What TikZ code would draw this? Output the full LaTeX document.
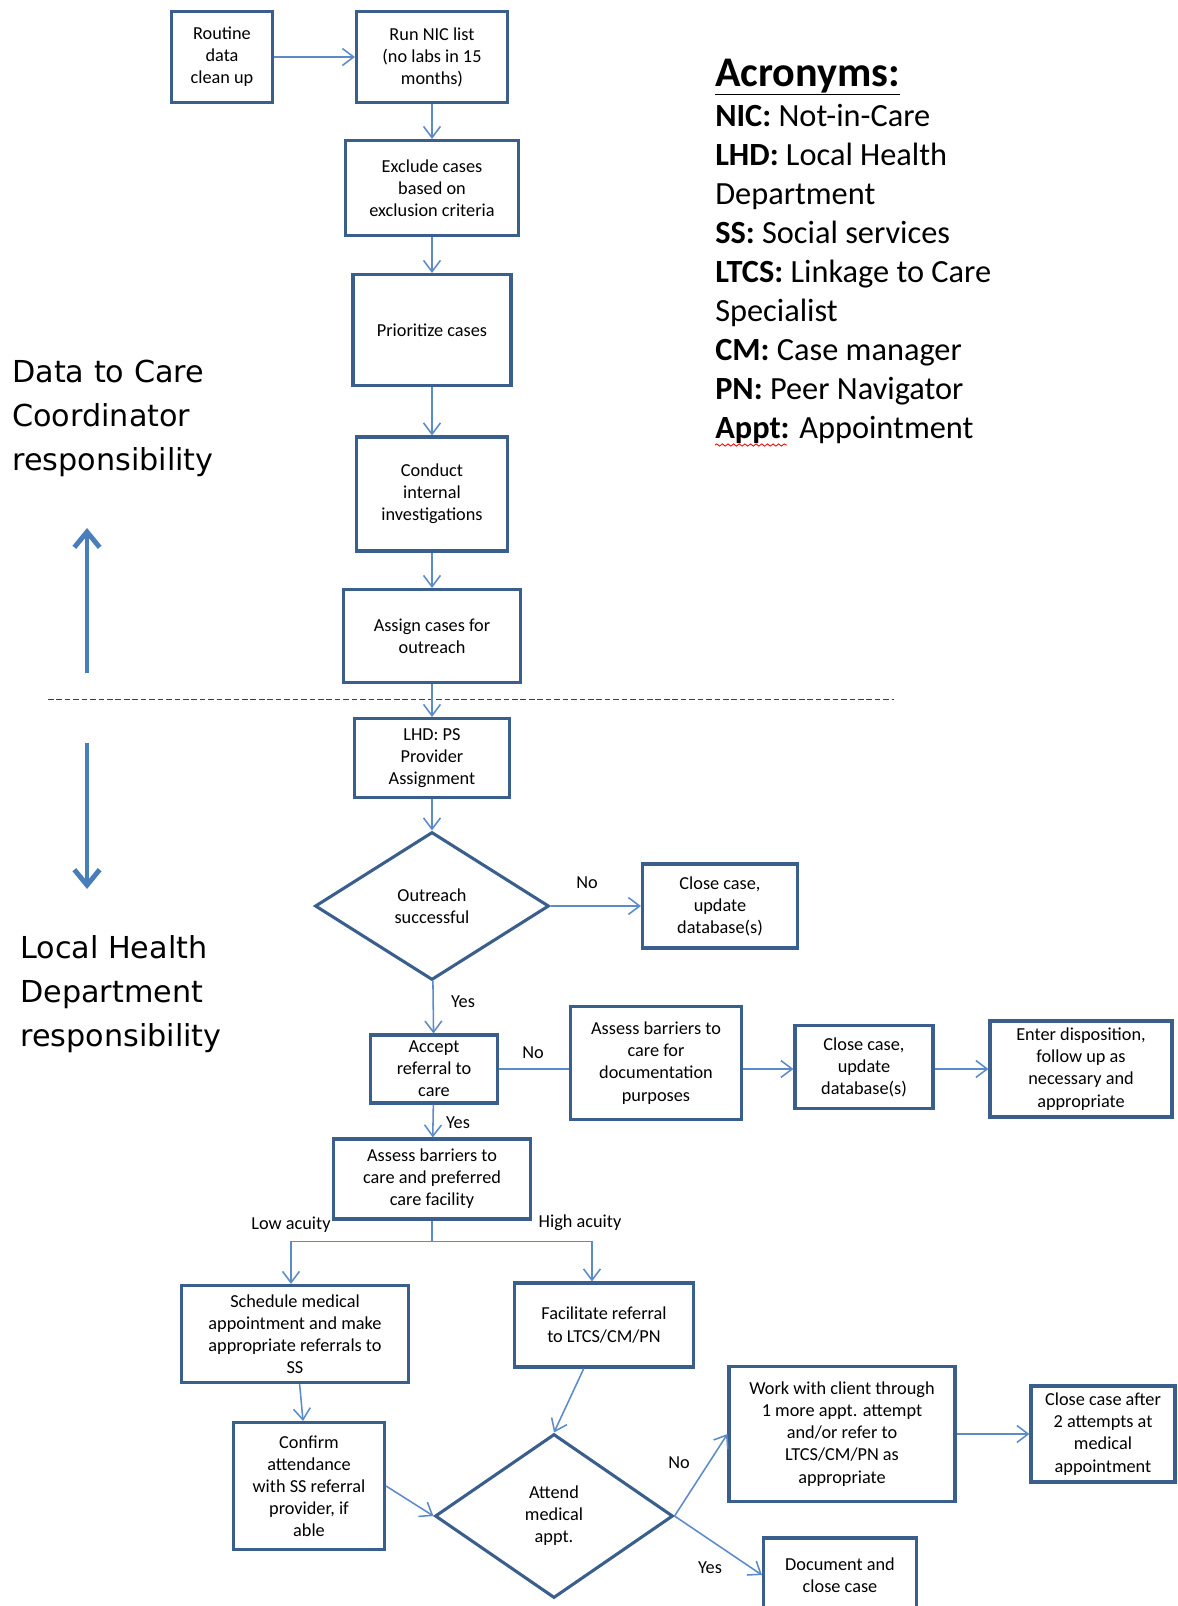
\documentclass[tikz,border=0pt]{standalone}
\usepackage{fontspec}
\setmainfont{Carlito}
\newfontfamily\sidefont{DejaVu Sans}
\usepackage{tikz}
\usetikzlibrary{arrows.meta,positioning,shapes.geometric,decorations.pathmorphing}
\usepackage{xcolor}
\definecolor{boxblue}{HTML}{3B5F8D}
\definecolor{linkblue}{HTML}{5B8BC9}
\definecolor{bigblue}{HTML}{4A7EBB}

\begin{document}
\begin{tikzpicture}[x=0.025cm, y=-0.025cm,
  font=\fontsize{13pt}{15.7pt}\selectfont,
  box/.style={draw=boxblue, line width=2.2pt, fill=white, align=center, inner sep=1pt},
  sz/.style 2 args={minimum width=#1*0.025cm, minimum height=#2*0.025cm},
  choice/.style={diamond, draw=boxblue, line width=2.2pt, fill=white, align=center, inner sep=0pt},
  link/.style={draw=linkblue, line width=1.1pt, -{Straight Barb[length=8pt,width=12pt]}},
  plain/.style={draw=linkblue, line width=1.1pt},
  lbl/.style={inner sep=0pt},
  side/.style={font=\sidefont\fontsize{21.5pt}{31.3pt}\selectfont, align=left, anchor=north west, inner sep=0pt},
  move/.style={draw=bigblue, line width=3.5pt, -{Straight Barb[length=11pt,width=18pt]}}]
\useasboundingbox (0,0) rectangle (1178,1606);
\clip (0,0) rectangle (1178,1606);
% ---- who is responsible ----
\node[side] (dtc) at (12,360) {Data to Care\\Coordinator\\responsibility};
\node[side] (lhdresp) at (20,935) {Local Health\\Department\\responsibility};
\draw[move] (87,673) -- (87,528);
\draw[move] (87,743) -- (87,889);
\draw[black!75, line width=0.7pt, dash pattern=on 4pt off 2pt] (48,699) -- (894,699);
% ---- acronyms ----
\node[anchor=base west, inner sep=0pt, font=\bfseries\fontsize{30pt}{36pt}\selectfont]
   (acrtitle) at (715,86) {\underline{Acronyms:}};
\node[anchor=north west, align=left, inner sep=0pt, font=\fontsize{23pt}{27.7pt}\selectfont]
   (acrlist) at (715,104)
   {\textbf{NIC:} Not-in-Care\\\textbf{LHD:} Local Health\\Department\\\textbf{SS:} Social services\\
    \textbf{LTCS:} Linkage to Care\\Specialist\\\textbf{CM:} Case manager\\
    \textbf{PN:} Peer Navigator\\\textbf{Appt:} Appointment};
\draw[red, line width=0.6pt, decorate, decoration={snake, amplitude=0.8pt, segment length=4pt}]
   (715,445) -- (787,445);
% ---- coordinator steps ----
\node[box, sz={101}{91}] (routine) at (222,57) {Routine\\data\\clean up};
\node[box, sz={151}{91}] (runnic) at (432,57) {Run NIC list\\(no labs in 15\\months)};
\node[box, sz={173}{95}] (exclude) at (432,188) {Exclude cases\\based on\\exclusion criteria};
\node[box, sz={158}{111}] (prioritize) at (432,330) {Prioritize cases};
\node[box, sz={151}{114}] (conduct) at (432,494) {Conduct\\internal\\investigations};
\node[box, sz={177}{93}] (assign) at (432,636) {Assign cases for\\outreach};
% ---- health department steps ----
\node[box, sz={155}{79}] (lhd) at (432,758) {LHD: PS\\Provider\\Assignment};
\node[choice, sz={234}{148}] (outreach) at (432,906) {Outreach\\successful};
\node[box, sz={155}{84}] (closeA) at (720,906) {Close case,\\update\\database(s)};
\node[box, sz={127}{68}] (accept) at (434,1069) {Accept\\referral to\\care};
\node[box, sz={171}{113}] (assessdoc) at (656,1063) {Assess barriers to\\care for\\documentation\\purposes};
\node[box, sz={138}{83}] (closeB) at (864,1067) {Close case,\\update\\database(s)};
\node[box, sz={182}{96}] (enter) at (1081,1069) {Enter disposition,\\follow up as\\necessary and\\appropriate};
\node[box, sz={197}{80}] (assesspref) at (432,1179) {Assess barriers to\\care and preferred\\care facility};
\node[box, sz={227}{97}] (schedule) at (295,1334) {Schedule medical\\appointment and make\\appropriate referrals to\\SS};
\node[box, sz={179}{84}] (facilitate) at (604,1325) {Facilitate referral\\to LTCS/CM/PN};
\node[box, sz={151}{127}] (confirm) at (309,1486) {Confirm\\attendance\\with SS referral\\provider, if\\able};
\node[choice, sz={238}{164}] (attend) at (554,1516) {Attend\\medical\\appt.};
\node[box, sz={226}{135}] (work) at (842,1434) {Work with client through\\1 more appt. attempt\\and/or refer to\\LTCS/CM/PN as\\appropriate};
\node[box, sz={144}{96}] (closeC) at (1103,1434) {Close case after\\2 attempts at\\medical\\appointment};
\node[box, sz={153}{74}] (document) at (840,1575) {Document and\\close case};
% ---- connectors ----
\draw[link] (routine) -- (runnic);
\draw[link] (runnic) -- (exclude);
\draw[link] (exclude) -- (prioritize);
\draw[link] (prioritize) -- (conduct);
\draw[link] (conduct) -- (assign);
\draw[link] (assign) -- (lhd);
\draw[link] (lhd) -- (outreach);
\draw[link] (outreach) -- (closeA);
\draw[link] (outreach) -- (accept);
\draw[plain] (accept.east) -- (accept.east -| assessdoc.west);
\draw[link] (assessdoc.east |- accept) -- (closeB.west |- accept);
\draw[link] (closeB.east |- accept) -- (enter.west |- accept);
\draw[link] (accept) -- (assesspref);
\draw[plain] (assesspref.south) -- ++(0,21) coordinate (fork);
\draw[link] (fork) -| ([xshift=-0.1cm]schedule.north);
\draw[link] (fork) -| ([xshift=-0.3cm]facilitate.north);
\draw[link] (schedule) -- (confirm);
\draw[link] (facilitate) -- (attend.north);
\draw[link] (confirm.east) -- (attend.west);
\draw[link] (attend.east) -- (work.west);
\draw[link] (attend.east) -- (document.west);
\draw[link] (work) -- (closeC);
% ---- branch labels ----
\node[lbl] (noA) at (587,883) {No};
\node[lbl] (yesA) at (463,1002) {Yes};
\node[lbl] (noB) at (533,1053) {No};
\node[lbl] (yesB) at (458,1123) {Yes};
\node[lbl] (low) at (291,1225) {Low acuity};
\node[lbl] (high) at (580,1223) {High acuity};
\node[lbl] (noC) at (679,1463) {No};
\node[lbl] (yesC) at (710,1568) {Yes};
\end{tikzpicture}
\end{document}
